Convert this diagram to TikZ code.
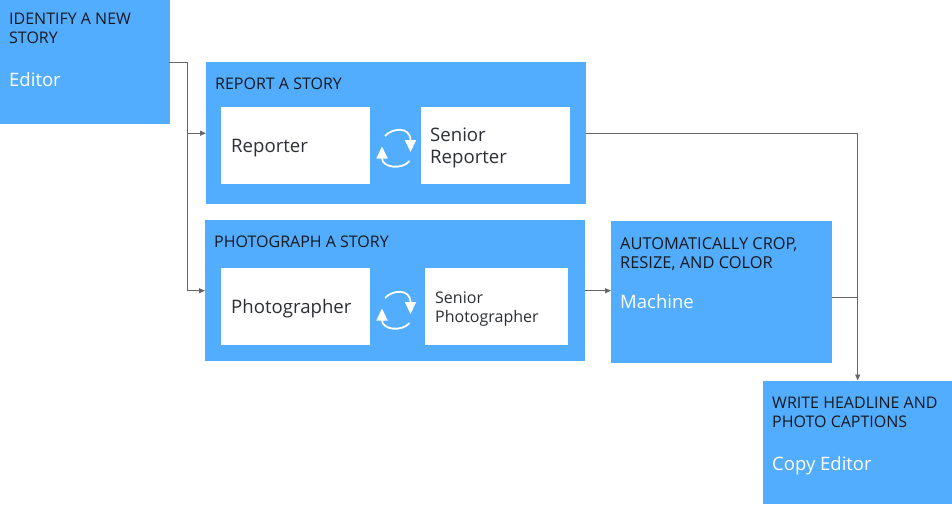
\documentclass[tikz,border=0pt]{standalone}
\usepackage{fontspec}
\setmainfont{Open Sans}
\usepackage{xcolor}
\usetikzlibrary{arrows.meta,positioning,calc}
\definecolor{boxblue}{HTML}{52ADFF}
\definecolor{inktext}{HTML}{15181C}
\definecolor{flowgray}{HTML}{666666}
\tikzset{
  box/.style={fill=#1,inner sep=0pt,anchor=north west},
  box/.default=boxblue,
  tasktext/.style={anchor=north west,inner sep=0pt,align=left,text=inktext,font=\fontsize{16}{19}\selectfont},
  roletext/.style={anchor=west,inner sep=0pt,align=left,text=white,font=\fontsize{18.5}{22}\selectfont},
  staff/.style={anchor=west,inner sep=0pt,align=left,text=inktext!90,font=\fontsize{18.6}{22}\selectfont},
  flow/.style={draw=flowgray,line width=0.9pt},
  flowtip/.style={flow,-{Triangle[length=6pt,width=5pt]}},
  syncarc/.style={draw=white,line width=1.8pt,-{Triangle[length=12pt,width=11pt]}}
}
\begin{document}
\begin{tikzpicture}[x=1pt,y=-1pt]
  \useasboundingbox (0,0) rectangle (952,506);
  % outer boxes
  \node[box,minimum width=169.5pt,minimum height=123.5pt] (editor) at (0,0) {};
  \node[box,minimum width=380pt,minimum height=142pt] (report) at (206,62) {};
  \node[box,minimum width=380pt,minimum height=141pt] (photo) at (205,220) {};
  \node[box,minimum width=221pt,minimum height=141.5pt] (machine) at (611,221) {};
  \node[box,minimum width=189pt,minimum height=123pt] (copy) at (763,380.5) {};
  % inner boxes
  \node[box=white,minimum width=149pt,minimum height=77pt] (reporter) at (221,107) {};
  \node[box=white,minimum width=149pt,minimum height=77pt] (seniorrep) at (421,107) {};
  \node[box=white,minimum width=149pt,minimum height=77pt] (photographer) at (221,268) {};
  \node[box=white,minimum width=143pt,minimum height=77pt] (seniorphoto) at (425,268) {};
  % texts
  \node[tasktext] (editortask) at (9,13) {IDENTIFY A NEW\\STORY};
  \node[roletext] (editorrole) at (9,80) {Editor};
  \node[tasktext] (reporttask) at (215,78) {REPORT A STORY};
  \node[tasktext] (phototask) at (214,235.5) {PHOTOGRAPH A STORY};
  \node[tasktext,font=\fontsize{16.4}{19}\selectfont] (machinetask) at (620,237) {AUTOMATICALLY CROP,\\RESIZE, AND COLOR};
  \node[roletext] (machinerole) at (620,302) {Machine};
  \node[tasktext] (copytask) at (772,397) {WRITE HEADLINE AND\\PHOTO CAPTIONS};
  \node[roletext] (copyrole) at (772,465.5) {Copy Editor};
  \node[staff] (reportername) at (231,148) {Reporter};
  \node[staff] (seniorrepname) at (430,147.5) {Senior\\Reporter};
  \node[staff] (photographername) at (231,309) {Photographer};
  \node[staff,font=\fontsize{16}{19}\selectfont] (seniorphotoname) at (435,309.5) {Senior\\Photographer};
  % sync arrows between the two roles
  \foreach \cx/\cy in {396/148,396/310} {
    \draw[syncarc] (\cx-11,\cy-12) .. controls (\cx-4,\cy-20) and (\cx+14.5,\cy-22) .. (\cx+14.5,\cy+4);
    \draw[syncarc] (\cx+13.5,\cy+13) .. controls (\cx+6,\cy+22) and (\cx-14,\cy+20) .. (\cx-14,\cy-1.5);
  }
  % connectors
  \coordinate (editorout) at (169,62);
  \coordinate (machineout) at (832,297);
  \draw[flowtip] (editorout) -- (187,62) |- (report.west);
  \draw[flowtip] (187,132) |- (photo.west);
  \draw[flowtip] (photo.east) -- (machine.west |- photo.east);
  \draw[flowtip] (report.east) -| (copy.north);
  \draw[flow] (machineout) -- (machineout -| copy.north);
\end{tikzpicture}
\end{document}
